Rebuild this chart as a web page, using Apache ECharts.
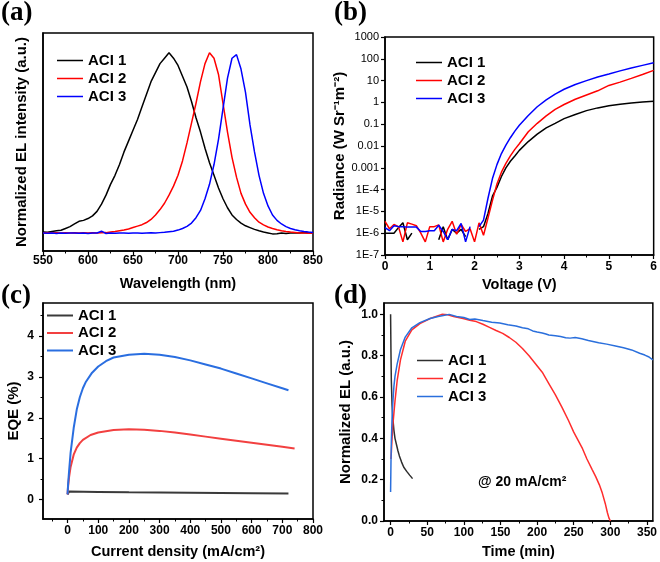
<!DOCTYPE html>
<html><head><meta charset="utf-8">
<script src="https://cdn.jsdelivr.net/npm/echarts@6/dist/echarts.min.js"></script>
<style>html,body{margin:0;padding:0;background:#fff}#c{width:660px;height:562px}</style>
</head><body><div id="c"></div>
<script>
// ---------- Panel (a): EL spectra ----------
const wavelength = [550,555,560,565,570,575,580,585,590,595,600,605,610,615,620,625,630,635,640,645,650,655,660,665,670,675,680,685,690,695,700,705,710,715,720,725,730,735,740,745,750,755,760,765,770,775,780,785,790,795,800,805,810,815,820,825,830,835,840,845,850];
const elACI1 = [0.005,0.004,0.008,0.012,0.015,0.025,0.035,0.05,0.065,0.07,0.08,0.095,0.12,0.16,0.21,0.27,0.32,0.38,0.45,0.51,0.57,0.63,0.70,0.77,0.84,0.89,0.94,0.97,1.0,0.97,0.93,0.87,0.81,0.73,0.64,0.56,0.47,0.39,0.32,0.25,0.19,0.14,0.10,0.075,0.055,0.04,0.03,0.02,0.012,0.005,0.0,-0.005,-0.004,0.0,-0.003,0.0,0.0,0.0,0.003,0.0,0.0];
const elACI2 = [0,0.001,0,0.002,0,0.001,0,0.001,0,0.002,0,0.001,0,0.001,0.002,0.005,0.008,0.012,0.016,0.022,0.03,0.038,0.046,0.058,0.075,0.10,0.13,0.165,0.21,0.26,0.32,0.40,0.50,0.61,0.72,0.84,0.94,1.0,0.97,0.88,0.72,0.56,0.42,0.31,0.22,0.16,0.115,0.085,0.06,0.045,0.033,0.025,0.018,0.012,0.008,0.005,0.003,0.0,0.0,-0.002,0.0];
const elACI3 = [0,-0.002,0,-0.003,0,-0.002,0,0,-0.002,0,-0.003,0,0,0.01,-0.003,0,-0.002,0,0,-0.002,0,0,-0.001,0,0.001,0,0.002,0.004,0.007,0.01,0.016,0.025,0.037,0.055,0.085,0.125,0.19,0.27,0.38,0.52,0.69,0.86,0.97,0.99,0.91,0.78,0.60,0.45,0.32,0.22,0.15,0.10,0.07,0.05,0.035,0.025,0.018,0.012,0.008,0.005,0.003];

// ---------- Panel (b): radiance vs voltage ----------
const voltage = [0,0.1,0.2,0.3,0.4,0.5,0.6,0.7,0.8,0.9,1.0,1.1,1.2,1.3,1.4,1.5,1.6,1.7,1.8,1.9,2.0,2.1,2.2,2.3,2.4,2.5,2.6,2.7,2.8,2.9,3.0,3.2,3.4,3.6,3.8,4.0,4.25,4.5,4.75,5.0,5.25,5.5,5.75,6.0];
const radACI1 = [1e-6,1e-6,1e-6,1.8e-6,3e-6,5e-7,1e-6,null,null,null,null,null,5e-7,2e-6,5e-7,1.5e-6,1e-6,1.5e-6,7e-7,null,null,1.5e-6,2e-6,8e-6,5e-5,1.26e-4,4e-4,1e-3,2e-3,3.5e-3,6.3e-3,0.016,0.035,0.068,0.11,0.18,0.28,0.42,0.56,0.7,0.83,0.95,1.05,1.12];
const radACI2 = [3.5e-6,1.6e-6,2.5e-6,2e-6,4e-7,3e-6,2.6e-6,2.2e-6,1e-6,4e-7,2e-6,2e-6,2.4e-6,4e-7,1.5e-6,3.5e-6,9e-7,2.5e-6,1.2e-6,1.6e-6,4e-7,3e-6,8e-7,5e-6,3.2e-5,1.8e-4,6.3e-4,1.6e-3,3.5e-3,7e-3,0.0126,0.045,0.11,0.24,0.48,0.8,1.4,2.2,3.4,6,8.5,12.6,19,29.5];
const radACI3 = [1.8e-6,1.3e-6,2.2e-6,2e-6,2e-6,1.9e-6,1.9e-6,1.9e-6,1.2e-6,1.2e-6,1.3e-6,1.3e-6,2.3e-6,1.2e-6,5e-7,1.5e-6,1.3e-6,2.8e-6,4e-7,2e-6,null,2e-6,4e-6,4e-5,3.2e-4,1.4e-3,4.5e-3,0.011,0.024,0.048,0.089,0.25,0.63,1.3,2.4,4,6.6,10,14.5,20,28,38,50,66];

// ---------- Panel (c): EQE vs current density ----------
const jACI1 = [0,5,100,200,300,400,500,600,720];
const eqeACI1 = [0.13,0.2,0.19,0.18,0.175,0.17,0.165,0.16,0.15];
const jACI2 = [0,2,5,10,20,30,40,50,75,100,150,200,250,300,350,400,450,500,550,600,650,700,740];
const eqeACI2 = [0.13,0.35,0.55,0.8,1.1,1.27,1.38,1.46,1.58,1.64,1.70,1.72,1.71,1.68,1.64,1.59,1.54,1.49,1.44,1.39,1.34,1.29,1.25];
const jACI3 = [0,2,5,10,20,30,40,50,60,80,100,125,150,200,250,300,350,400,450,500,550,600,650,700,720];
const eqeACI3 = [0.13,0.4,0.7,1.15,1.75,2.2,2.5,2.72,2.88,3.1,3.25,3.38,3.47,3.54,3.56,3.54,3.48,3.4,3.3,3.2,3.08,2.96,2.84,2.72,2.67];

// ---------- Panel (d): lifetime ----------
const tACI1 = [0,0.5,1,2,3,4.5,6,8,10,12,15,18,22,26,30];
const lifeACI1 = [1.0,0.82,0.68,0.56,0.5,0.44,0.4,0.37,0.34,0.315,0.285,0.26,0.24,0.222,0.205];
const tACI2 = [0.5,1,2,3,4.5,6,9,13.5,20,29,40,54,62,70,78,86,99,108,117,126,135,144,153,162,171,180,189,198,207,216,225,234,243,250,256,262,268,275,280,285,289,293,296,298,300];
const lifeACI2 = [0.3,0.33,0.4,0.46,0.52,0.58,0.68,0.78,0.87,0.925,0.955,0.98,0.99,1.0,0.998,0.99,0.98,0.972,0.965,0.952,0.937,0.922,0.908,0.888,0.865,0.835,0.8,0.76,0.72,0.665,0.61,0.55,0.485,0.43,0.39,0.35,0.3,0.25,0.215,0.175,0.135,0.085,0.04,0.015,0.0];
const tACI3 = [0,0.5,1,2,3,4.5,6,9,13.5,20,29,40,54,65,72,80,90,100,108,115,126,138,149,160,171,180,188,194,200,207,212,216,225,232,239,245,252,261,270,284,295,307,318,329,340,347,352,358];
const lifeACI3 = [0.14,0.28,0.38,0.5,0.57,0.65,0.7,0.76,0.83,0.89,0.935,0.96,0.98,0.99,0.995,1.0,0.99,0.985,0.975,0.978,0.97,0.962,0.958,0.95,0.944,0.935,0.93,0.92,0.915,0.91,0.905,0.9,0.897,0.893,0.887,0.885,0.888,0.882,0.874,0.863,0.856,0.847,0.838,0.828,0.812,0.803,0.795,0.78];

// ---------- Tick labels ----------
const ticksA_x = [550,600,650,700,750,800,850];
const minorA_x = [575,625,675,725,775,825];
const ticksB_x = [0,1,2,3,4,5,6];
const minorB_x = [0.5,1.5,2.5,3.5,4.5,5.5];
const ticksC_x = [0,100,200,300,400,500,600,700,800];
const minorC_x = [-50,50,150,250,350,450,550,650,750];
const ticksC_y = [0,1,2,3,4];
const minorC_y = [0.5,1.5,2.5,3.5,4.5];
const ticksD_x = [0,50,100,150,200,250,300,350];
const minorD_x = [25,75,125,175,225,275,325];
const ticksD_y = [0,0.2,0.4,0.6,0.8,1.0];
const minorD_y = [0.1,0.3,0.5,0.7,0.9];

const seriesNames = ['ACI 1','ACI 2','ACI 3'];

const FONT = '"Liberation Sans", Arial, Helvetica, sans-serif';
const grids = [
  {left:43, top:33, width:270, height:218},
  {left:385, top:37, width:270, height:218},
  {left:43, top:303, width:270, height:216},
  {left:384, top:303, width:271, height:218}
].map(g => Object.assign({show:true, borderColor:'#000', borderWidth:1.5, backgroundColor:'transparent', containLabel:false}, g));

const xAxes = [], yAxes = [];
function mainAxis(list, gridIndex, o) {
  list.push({
    type: o.type || 'value', gridIndex, min: o.min, max: o.max, position: o.pos,
    logBase: o.logBase, interval: o.interval,
    name: o.name, nameLocation: 'middle', nameGap: o.nameGap,
    nameTextStyle: {fontFamily: FONT, fontWeight: 'bold', fontSize: o.nameSize || 15, color: '#000'},
    axisLine: {show: true, onZero: false, lineStyle: {color: '#000', width: 1.5}},
    axisTick: {show: o.ticks !== false, inside: false, length: 4, lineStyle: {color: '#000', width: 1.2}, customValues: o.major},
    axisLabel: {show: o.labels !== false, customValues: o.major, margin: o.margin, formatter: o.fmt,
      fontFamily: FONT, fontWeight: o.labelWeight || 'bold', fontSize: o.labelSize || 12, color: '#000'},
    splitLine: {show: false}
  });
  return list.length - 1;
}
function minorAxis(list, gridIndex, o) {
  list.push({type: 'value', gridIndex, min: o.min, max: o.max, position: o.pos,
    axisLine: {show: false, onZero: false}, axisLabel: {show: false}, splitLine: {show: false},
    axisTick: {show: true, length: 2.5, lineStyle: {color: '#000', width: 1}, customValues: o.minor}});
  return list.length - 1;
}

// panel a
const ax_a = mainAxis(xAxes, 0, {min:550, max:850, pos:'bottom', major:ticksA_x, margin:4, name:'Wavelength (nm)', nameGap:25, nameSize:14.5});
minorAxis(xAxes, 0, {min:550, max:850, pos:'bottom', minor:minorA_x});
const ay_a = mainAxis(yAxes, 0, {min:-0.1, max:1.11, pos:'left', ticks:false, labels:false, name:'Normalized EL intensity (a.u.)', nameGap:14});
// panel b
const ax_b = mainAxis(xAxes, 1, {min:0, max:6, pos:'bottom', major:ticksB_x, margin:6, name:'Voltage (V)', nameGap:22, nameSize:14.5});
minorAxis(xAxes, 1, {min:0, max:6, pos:'bottom', minor:minorB_x});
const ay_b = mainAxis(yAxes, 1, {type:'log', logBase:10, min:1e-7, max:1000, interval:1, pos:'left', margin:6,
  labelWeight:'normal', labelSize:11,
  fmt: v => { const e = Math.round(Math.log10(v)); if (e >= 0) return String(Math.pow(10, e)); if (e >= -3) return (Math.pow(10, e)).toFixed(-e); return '1E' + e; },
  name:'Radiance (W Sr\u207B\u00B9m\u207B\u00B2)', nameGap:33});
// panel c
const ax_c = mainAxis(xAxes, 2, {min:-80, max:800, pos:'bottom', major:ticksC_x, margin:6, name:'Current density (mA/cm\u00B2)', nameGap:25, nameSize:14.5});
minorAxis(xAxes, 2, {min:-80, max:800, pos:'bottom', minor:minorC_x});
const ay_c = mainAxis(yAxes, 2, {min:-0.47, max:4.8, pos:'left', major:ticksC_y, margin:9, name:'EQE (%)', nameGap:22});
minorAxis(yAxes, 2, {min:-0.47, max:4.8, pos:'left', minor:minorC_y});
// panel d
const ax_d = mainAxis(xAxes, 3, {min:-9, max:358, pos:'bottom', major:ticksD_x, margin:6, name:'Time (min)', nameGap:23, nameSize:14.5});
minorAxis(xAxes, 3, {min:-9, max:358, pos:'bottom', minor:minorD_x});
const ay_d = mainAxis(yAxes, 3, {min:0, max:1.055, pos:'left', major:ticksD_y, margin:6, fmt: v => v.toFixed(1), name:'Normalized EL (a.u.)', nameGap:31});
minorAxis(yAxes, 3, {min:0, max:1.055, pos:'left', minor:minorD_y});

const zip = (xs, ys) => xs.map((x, i) => [x, ys[i]]);
const series = [];
function addSeries(prefix, idx, xi, yi, data, color, width) {
  series.push({type:'line', name: prefix + '|' + seriesNames[idx], xAxisIndex: xi, yAxisIndex: yi,
    data, symbol:'none', showSymbol:false, connectNulls:false, animation:false,
    lineStyle:{color, width}, itemStyle:{color}, z: 3 + idx, clip: true});
}
const colA = ['#000000','#ff0000','#0000ff'];
const colC = ['#3a3a3a','#f24040','#2a6ee0'];
const colD = ['#2e2e2e','#ff2d2d','#2a6fdc'];
addSeries('a', 0, ax_a, ay_a, zip(wavelength, elACI1), colA[0], 1.5);
addSeries('a', 1, ax_a, ay_a, zip(wavelength, elACI2), colA[1], 1.5);
addSeries('a', 2, ax_a, ay_a, zip(wavelength, elACI3), colA[2], 1.5);
addSeries('b', 0, ax_b, ay_b, zip(voltage, radACI1), colA[0], 1.5);
addSeries('b', 1, ax_b, ay_b, zip(voltage, radACI2), colA[1], 1.5);
addSeries('b', 2, ax_b, ay_b, zip(voltage, radACI3), colA[2], 1.5);
addSeries('c', 0, ax_c, ay_c, zip(jACI1, eqeACI1), colC[0], 2);
addSeries('c', 1, ax_c, ay_c, zip(jACI2, eqeACI2), colC[1], 2);
addSeries('c', 2, ax_c, ay_c, zip(jACI3, eqeACI3), colC[2], 2);
addSeries('d', 0, ax_d, ay_d, zip(tACI1, lifeACI1), colD[0], 1.5);
addSeries('d', 1, ax_d, ay_d, zip(tACI2, lifeACI2), colD[1], 1.5);
addSeries('d', 2, ax_d, ay_d, zip(tACI3, lifeACI3), colD[2], 1.5);

function legend(prefix, left, top, gap, lw) {
  return {orient:'vertical', left, top, itemWidth:26, itemHeight:lw, itemGap:gap, padding:0, icon:'rect',
    data: seriesNames.map(n => prefix + '|' + n), selectedMode:false,
    formatter: n => n.split('|')[1],
    textStyle:{fontFamily:FONT, fontWeight:'bold', fontSize:15, color:'#000', lineHeight:14.5}};
}

const panelLabel = (txt, x, y) => ({type:'text', left:x, top:y, silent:true,
  style:{text:txt, fontFamily:'"Liberation Serif", "Times New Roman", serif', fontWeight:'bold', fontSize:27, fill:'#000'}});

const option = {
  animation:false,
  backgroundColor:'#fff',
  grid: grids,
  xAxis: xAxes,
  yAxis: yAxes,
  series,
  legend: [legend('a', 57, 53, 3, 1.5), legend('b', 416, 55, 3, 1.5), legend('c', 47, 308, 2.5, 2), legend('d', 417, 353, 3, 1.5)],
  graphic: [
    panelLabel('(a)', 1, 0), panelLabel('(b)', 334, 0), panelLabel('(c)', 1, 283), panelLabel('(d)', 334, 283),
    {type:'text', left:478, top:475, silent:true,
      style:{text:'@ 20 mA/cm\u00B2', fontFamily:FONT, fontWeight:'bold', fontSize:14, fill:'#000'}}
  ]
};
const chart = echarts.init(document.getElementById('c'), null, {renderer:'canvas'});
chart.setOption(option);
</script></body></html>
